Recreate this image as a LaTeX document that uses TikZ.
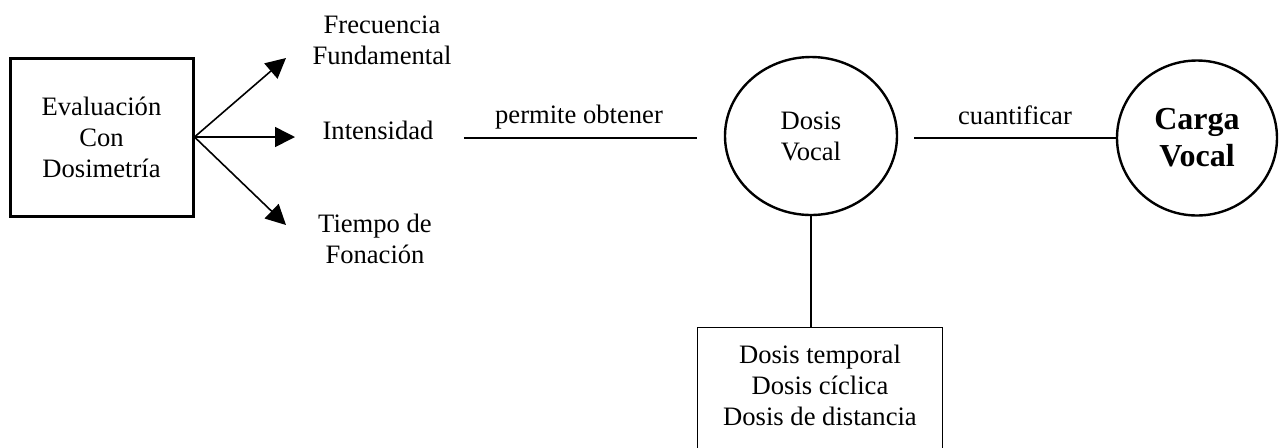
\documentclass[tikz,border=0pt]{standalone}
\usepackage{fontspec}
\setmainfont{Liberation Serif}
\usepackage{tikz}
\usetikzlibrary{arrows.meta,shapes.geometric}
\tikzstyle{flecha} = [line width=0.8pt,-{Triangle[length=10pt,width=10pt]}]
\tikzstyle{linea} = [line width=0.8pt]
\tikzstyle{texto} = [align=center, font=\fontsize{13.3}{15.5}\selectfont]
\tikzstyle{caja} = [texto, rectangle, draw, line width=1.5pt, minimum width=91.5pt, minimum height=79pt]
\tikzstyle{circulo} = [texto, ellipse, draw, line width=1.2pt, inner sep=0pt]

\begin{document}
\begin{tikzpicture}[x=0.5pt,y=-0.5pt]
\useasboundingbox (0,0) rectangle (1282,447);
% Evaluacion y parametros
\node (ev) [caja] at (101.5,137) {Evaluación\\Con\\Dosimetría};
\node (frec) [texto] at (382,40) {Frecuencia\\Fundamental};
\node (inten) [texto, inner xsep=15pt] at (378,130) {Intensidad};
\node (tiempo) [texto] at (375,239) {Tiempo de\\Fonación};
\coordinate (pfrec) at (286,58);
\coordinate (pinten) at (295,137);
\coordinate (ptiempo) at (286,225);
\draw[flecha] (ev.east) -- (pfrec);
\draw[flecha] (ev.east) -- (pinten);
\draw[flecha] (ev.east) -- (ptiempo);

% Dosis y carga
\node (dosis) [circulo, minimum width=86pt, minimum height=79pt] at (811,136) {Dosis\\Vocal};
\node (carga) [circulo, minimum width=80pt, minimum height=77.5pt, font=\fontsize{16}{18.5}\selectfont\bfseries] at (1197,138) {Carga\\Vocal};
\node (perm) [texto] at (579,117) {permite obtener};
\node (cuant) [texto] at (1015,115) {cuantificar};
\draw[linea, shorten >=13.5pt] (inten.east |- carga.west) -- (dosis.west |- carga.west);
\draw[linea, shorten <=8pt] (dosis.east |- carga.west) -- (carga.west);

% Tipos de dosis
\node (tipos) [texto, draw, line width=0.65pt, anchor=north, minimum width=122.5pt, inner ysep=8.5pt, text depth=10pt] at (820,327) {Dosis temporal\\Dosis cíclica\\Dosis de distancia};
\draw[linea] (dosis.south) -- (dosis.south |- tipos.north);
\end{tikzpicture}
\end{document}
